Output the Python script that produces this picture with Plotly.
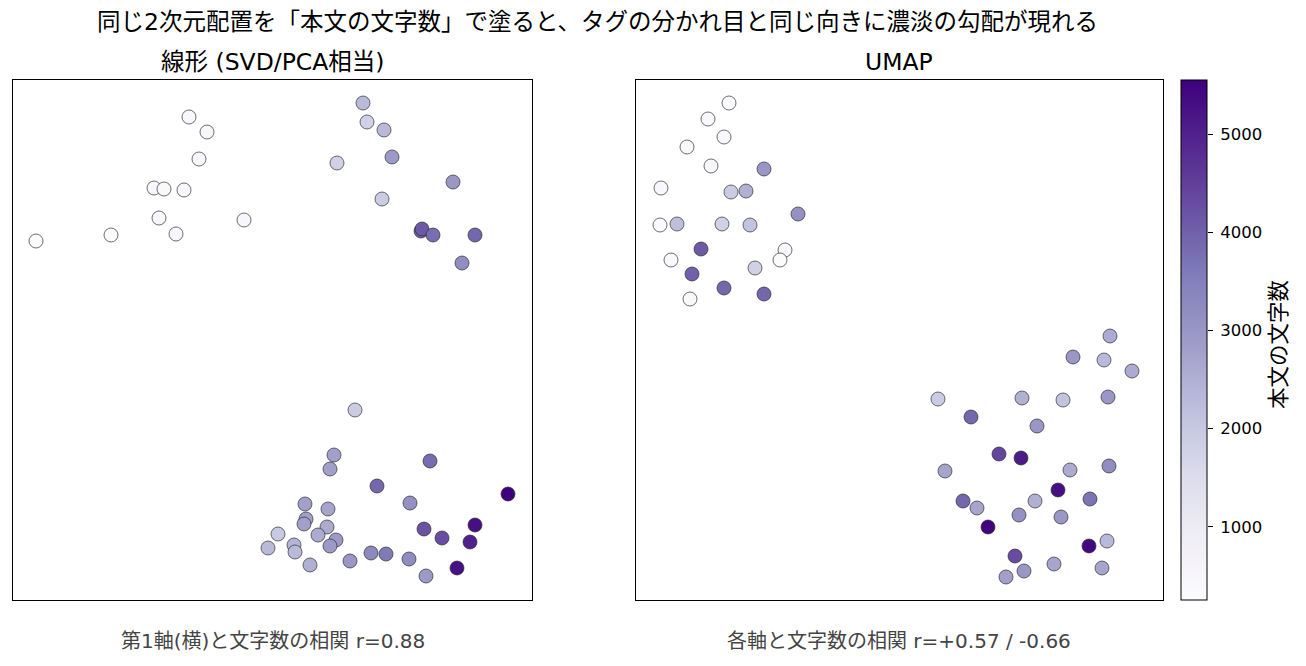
import plotly.graph_objects as go

# ---- data (embedding coordinates, arbitrary units) ----
lin_x = [1.76, 1.94, 1.86, 1.41, 1.51, 1.71, 1.46, 2.31, 1.63, 0.98, 0.23,
         3.50, 3.54, 3.71, 3.79, 3.24, 4.40, 3.69, 4.08, 4.09, 4.20, 4.62, 4.49,
         3.42, 3.21, 3.17, 4.17, 3.64, 4.95, 2.92, 3.15, 3.97, 2.93, 2.91, 3.14,
         2.65, 3.05, 3.23, 2.81, 3.17, 2.55, 2.82, 4.11, 4.29, 4.62, 4.57, 3.58,
         3.73, 3.96, 3.37, 2.97, 4.44, 4.13]
lin_y = [4.83, 4.68, 4.41, 4.12, 4.11, 4.10, 3.82, 3.80, 3.66, 3.65, 3.59,
         4.97, 4.78, 4.70, 4.43, 4.37, 4.18, 4.01, 3.69, 3.71, 3.65, 3.65, 3.37,
         1.90, 1.45, 1.31, 1.39, 1.14, 1.06, 0.96, 0.91, 0.97, 0.81, 0.76, 0.73,
         0.66, 0.65, 0.60, 0.55, 0.54, 0.52, 0.48, 0.71, 0.62, 0.75, 0.58, 0.47,
         0.46, 0.41, 0.39, 0.35, 0.32, 0.24]
lin_len = [450, 500, 500, 450, 400, 450, 450, 500, 450, 300, 300,
           2300, 1800, 2300, 2900, 1800, 3000, 1900, 4000, 4100, 3800, 3900, 3200,
           1900, 2800, 2800, 3800, 3900, 5550, 2800, 2700, 3100, 2800, 2800, 2600,
           2000, 2600, 2900, 2400, 2900, 2300, 2300, 4200, 4300, 5300, 5000, 3300,
           3600, 3200, 3000, 2500, 5300, 2900]

umap_x = [0.93, 0.72, 0.88, 0.51, 0.75, 1.28, 0.25, 0.95, 1.10, 1.62, 0.24,
          0.41, 0.86, 1.14, 0.65, 1.49, 1.44, 0.35, 1.19, 0.56, 0.88, 1.28, 0.54,
          4.74, 4.37, 4.68, 4.96, 3.02, 3.86, 4.27, 4.72, 3.35, 4.01, 3.63, 3.85,
          3.09, 4.34, 4.73, 4.22, 4.54, 3.27, 3.41, 3.99, 3.83, 4.25, 3.52, 4.53,
          4.71, 3.79, 4.18, 4.66, 3.88, 3.70]
umap_y = [4.97, 4.81, 4.63, 4.53, 4.34, 4.31, 4.12, 4.08, 4.09, 3.86, 3.75,
          3.76, 3.76, 3.75, 3.51, 3.50, 3.40, 3.40, 3.32, 3.26, 3.12, 3.06, 3.01,
          2.64, 2.43, 2.40, 2.29, 2.01, 2.02, 2.00, 2.03, 1.83, 1.74, 1.46, 1.42,
          1.29, 1.30, 1.34, 1.10, 1.01, 0.99, 0.92, 0.99, 0.85, 0.83, 0.73, 0.54,
          0.59, 0.44, 0.36, 0.32, 0.29, 0.23]
umap_len = [300, 450, 450, 400, 500, 3000, 450, 1900, 2500, 3100, 350,
            2200, 1800, 2100, 4100, 500, 300, 450, 1800, 4000, 3900, 3900, 400,
            2600, 3000, 2300, 2600, 1900, 2500, 2100, 3000, 3900, 3000, 4400, 5100,
            2700, 2600, 3200, 5300, 3700, 3900, 2700, 2500, 3100, 3000, 5500, 5400,
            2300, 4300, 2700, 2700, 3000, 2800]

title_main = "同じ2次元配置を「本文の文字数」で塗ると、タグの分かれ目と同じ向きに濃淡の勾配が現れる"
title_lin = "線形 (SVD/PCA相当)"
title_umap = "UMAP"
label_lin = "第1軸(横)と文字数の相関 r=0.88"
label_umap = "各軸と文字数の相関 r=+0.57 / -0.66"
cbar_title = "本文の文字数"
cbar_ticks = [1000, 2000, 3000, 4000, 5000]
cmin, cmax = 255, 5550

FONT = "DejaVu Sans, Noto Sans CJK JP"
W, H = 1306, 666

def px_x(p):
    return p / W

def px_y(p):
    return 1 - p / H

fig = go.Figure()

marker_common = dict(size=14, colorscale="Purples", cmin=cmin, cmax=cmax,
                     line=dict(color="rgba(40,40,40,0.75)", width=0.9), opacity=1)

fig.add_trace(go.Scatter(x=lin_x, y=lin_y, mode="markers", xaxis="x", yaxis="y",
                         marker=dict(color=lin_len, showscale=False, **marker_common),
                         showlegend=False, hoverinfo="skip"))
fig.add_trace(go.Scatter(x=umap_x, y=umap_y, mode="markers", xaxis="x2", yaxis="y2",
                         marker=dict(color=umap_len, showscale=True,
                                     colorbar=dict(
                                         x=px_x(1181), xanchor="left", xref="paper",
                                         y=px_y(600), yanchor="bottom", yref="paper",
                                         len=520 / H, lenmode="fraction",
                                         thickness=26, thicknessmode="pixels",
                                         outlinewidth=1, outlinecolor="black",
                                         showticklabels=False, ticks="",
                                         xpad=0, ypad=0),
                                     **marker_common),
                         showlegend=False, hoverinfo="skip"))
# empty trace that owns the colour-scale value axis drawn beside the colour bar
fig.add_trace(go.Scatter(x=[None], y=[None], xaxis="x2", yaxis="y3", mode="markers",
                         showlegend=False, hoverinfo="skip"))

axis_common = dict(showticklabels=False, ticks="", showgrid=False, zeroline=False,
                   showline=True, linecolor="black", linewidth=1, mirror=True)

fig.update_layout(
    width=W, height=H,
    margin=dict(l=0, r=0, t=0, b=0),
    paper_bgcolor="white", plot_bgcolor="white",
    font=dict(family=FONT, color="black"),
    xaxis=dict(domain=[px_x(13), px_x(532)], range=[0, 5.19], anchor="y", **axis_common),
    yaxis=dict(domain=[px_y(600), px_y(80)], range=[0, 5.20], anchor="x", **axis_common),
    xaxis2=dict(domain=[px_x(636), px_x(1163)], range=[0, 5.27], anchor="y2", **axis_common),
    yaxis2=dict(domain=[px_y(600), px_y(80)], range=[0, 5.20], anchor="x2", **axis_common),
    yaxis3=dict(domain=[px_y(600), px_y(80)], range=[cmin, cmax], overlaying="y2",
                anchor="free", position=px_x(1207), side="right",
                showgrid=False, zeroline=False, showline=False,
                tickvals=cbar_ticks, ticks="outside", ticklen=5, tickwidth=1, tickcolor="black",
                ticklabelstandoff=4,
                tickfont=dict(family=FONT, size=16.5, color="black")),
    title=dict(text=title_main, x=px_x(597.5), xanchor="center", y=px_y(22), yanchor="middle",
               font=dict(family=FONT, size=23.5, color="black")),
    annotations=[
        dict(text=title_lin, x=(px_x(13) + px_x(532)) / 2, y=px_y(62), xref="paper", yref="paper",
             showarrow=False, xanchor="center", yanchor="middle",
             font=dict(family=FONT, size=23.5, color="black")),
        dict(text=title_umap, x=(px_x(636) + px_x(1163)) / 2, y=px_y(62), xref="paper", yref="paper",
             showarrow=False, xanchor="center", yanchor="middle",
             font=dict(family=FONT, size=23.5, color="black")),
        dict(text=label_lin, x=(px_x(13) + px_x(532)) / 2, y=px_y(641), xref="paper", yref="paper",
             showarrow=False, xanchor="center", yanchor="middle",
             font=dict(family=FONT, size=20, color="#444444")),
        dict(text=label_umap, x=(px_x(636) + px_x(1163)) / 2, y=px_y(641), xref="paper", yref="paper",
             showarrow=False, xanchor="center", yanchor="middle",
             font=dict(family=FONT, size=20, color="#444444")),
        dict(text=cbar_title, textangle=-90, x=px_x(1278), y=px_y(345), xref="paper", yref="paper",
             showarrow=False, xanchor="center", yanchor="middle",
             font=dict(family=FONT, size=21.5, color="black")),
    ],
)

fig.write_html("out.html")
